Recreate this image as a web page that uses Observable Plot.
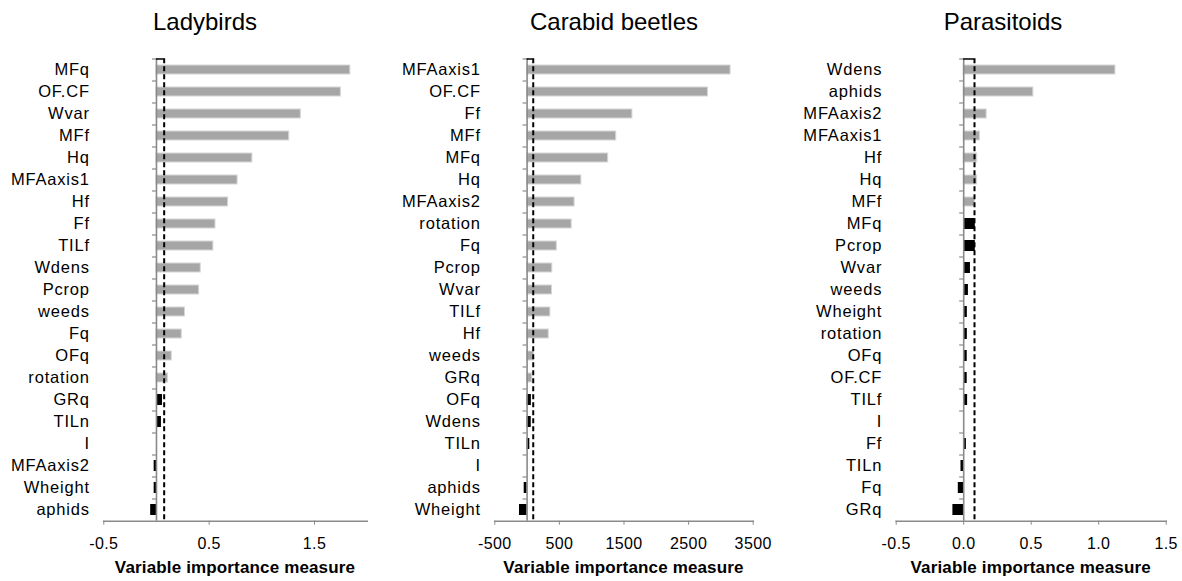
<!DOCTYPE html>
<html>
<head>
<meta charset="utf-8">
<script src="https://cdn.jsdelivr.net/npm/d3@7"></script>
<script src="https://cdn.jsdelivr.net/npm/@observablehq/plot@0.6"></script>
<style>
  html, body { margin: 0; padding: 0; background: #fff; }
  #root { position: relative; width: 1182px; height: 581px; overflow: hidden; font-family: "Liberation Sans", Arial, sans-serif; }
  .panel { position: absolute; top: 0; width: 394px; height: 581px; }
  .panel svg { position: absolute; left: 0; top: 0; overflow: visible; }
  .panel svg g[aria-label="y-axis tick label"] { letter-spacing: 0.8px; }
  .panel svg g[aria-label="x-axis tick label"] { letter-spacing: 0.4px; }
  .title { position: absolute; top: 10px; font-size: 24px; line-height: 24px; white-space: nowrap; color: #000; transform: translateX(-50%); }
  .xtitle { position: absolute; top: 559px; font-size: 17px; line-height: 17px; font-weight: bold; white-space: nowrap; color: #000; transform: translateX(-50%); letter-spacing: 0.15px; }
</style>
</head>
<body>
<div id="root"></div>
<script>
// ---- Data ----
const titles = ["Ladybirds", "Carabid beetles", "Parasitoids"];

const ladyNames = ["MFq","OF.CF","Wvar","MFf","Hq","MFAaxis1","Hf","Ff","TILf","Wdens","Pcrop","weeds","Fq","OFq","rotation","GRq","TILn","I","MFAaxis2","Wheight","aphids"];
const ladyValues = [1.84,1.75,1.37,1.26,0.91,0.77,0.68,0.56,0.54,0.42,0.405,0.27,0.24,0.145,0.11,0.057,0.047,0,-0.022,-0.022,-0.055];
const ladyImportant = [1,1,1,1,1,1,1,1,1,1,1,1,1,1,1,0,0,0,0,0,0];
const ladyThreshold = 0.073;
const ladyTicks = [-0.5, 0.5, 1.5];
const ladyDomain = [-0.5, 2.0];

const carabNames = ["MFAaxis1","OF.CF","Ff","MFf","MFq","Hq","MFAaxis2","rotation","Fq","Pcrop","Wvar","TILf","Hf","weeds","GRq","OFq","Wdens","TILn","I","aphids","Wheight"];
const carabValues = [3150,2800,1630,1380,1255,840,735,690,460,390,385,360,335,105,80,66,64,42,0,-45,-118];
const carabImportant = [1,1,1,1,1,1,1,1,1,1,1,1,1,1,1,0,0,0,0,0,0];
const carabThreshold = 95;
const carabTicks = [-500, 500, 1500, 2500, 3500];
const carabDomain = [-500, 3500];

const paraNames = ["Wdens","aphids","MFAaxis2","MFAaxis1","Hf","Hq","MFf","MFq","Pcrop","Wvar","weeds","Wheight","rotation","OFq","OF.CF","TILf","I","Ff","TILn","Fq","GRq"];
const paraValues = [1.124,0.516,0.17,0.12,0.10,0.10,0.082,0.086,0.086,0.05,0.035,0.027,0.027,0.026,0.026,0.029,0,0.02,-0.02,-0.04,-0.08];
const paraImportant = [1,1,1,1,1,1,1,0,0,0,0,0,0,0,0,0,0,0,0,0,0];
const paraThreshold = 0.08;
const paraTicks = [-0.5, 0.0, 0.5, 1.0, 1.5];
const paraDomain = [-0.5, 1.5];

// ---- Layout ----
const panels = [
  {title: titles[0], names: ladyNames, values: ladyValues, important: ladyImportant, thr: ladyThreshold, ticks: ladyTicks, domain: ladyDomain,
   fmt: d => d.toFixed(1), left: 0, mL: 103.3, mR: 27.3, titleX: 205},
  {title: titles[1], names: carabNames, values: carabValues, important: carabImportant, thr: carabThreshold, ticks: carabTicks, domain: carabDomain,
   fmt: d => String(d), left: 394, mL: 100.3, mR: 35.3, titleX: 220},
  {title: titles[2], names: paraNames, values: paraValues, important: paraImportant, thr: paraThreshold, ticks: paraTicks, domain: paraDomain,
   fmt: d => d.toFixed(1), left: 788, mL: 107.7, mR: 16.3, titleX: 215}
];

const W = 394, H = 581, mT = 58.3, mB = 60.3;
const axisGray = "#8a8a8a";
const root = document.getElementById("root");

for (const p of panels) {
  const data = p.names.map((n, i) => ({name: n, value: p.values[i], imp: p.important[i] === 1}));
  const plotW = W - p.mL - p.mR;
  const unitsPerPx = (p.domain[1] - p.domain[0]) / plotW;
  const step = (H - mT - mB) / p.names.length;

  const chart = Plot.plot({
    width: W, height: H,
    marginTop: mT, marginBottom: mB, marginLeft: p.mL, marginRight: p.mR,
    x: {domain: p.domain, axis: null},
    y: {domain: p.names, paddingInner: 0.5, paddingOuter: 0.25, axis: null},
    style: {fontFamily: '"Liberation Sans", Arial, sans-serif', color: "#000", background: "transparent", overflow: "visible"},
    marks: [
      Plot.barX(data.filter(d => d.imp), {x1: 0, x2: "value", y: "name", fill: "#a6a6a6", stroke: "#d6d6d6", strokeWidth: 1, insetTop: 1, insetBottom: 1}),
      Plot.barX(data.filter(d => !d.imp), {x1: 0, x2: "value", y: "name", fill: "#000"}),
      Plot.ruleX([0], {stroke: axisGray, strokeWidth: 1.6}),
      Plot.ruleY(p.names, {y: d => d, x1: 0, x2: -4 * unitsPerPx, dy: -step / 2, stroke: axisGray, strokeWidth: 1.2}),
      Plot.ruleX([p.thr], {stroke: "#000", strokeWidth: 2, strokeDasharray: "5,3"}),
      Plot.ruleY([p.names[0]], {x1: 0, x2: p.thr, dy: -step / 2, stroke: "#000", strokeWidth: 1.5}),
      Plot.frame({anchor: "bottom", stroke: axisGray, strokeWidth: 1.6}),
      Plot.axisX({ticks: p.ticks, tickFormat: p.fmt, tickSize: 4, tickPadding: 12, stroke: axisGray, fill: "#000", fontSize: 16, label: null}),
      Plot.axisY({anchor: "left", tickSize: 0, tickPadding: 14, fill: "#000", fontSize: 16.5, label: null})
    ]
  });

  const panel = document.createElement("div");
  panel.className = "panel";
  panel.style.left = p.left + "px";
  panel.appendChild(chart);

  const t = document.createElement("div");
  t.className = "title";
  t.style.left = p.titleX + "px";
  t.textContent = p.title;
  panel.appendChild(t);

  const xt = document.createElement("div");
  xt.className = "xtitle";
  xt.style.left = (p.mL + plotW / 2) + "px";
  xt.textContent = "Variable importance measure";
  panel.appendChild(xt);

  root.appendChild(panel);
}
</script>
</body>
</html>
